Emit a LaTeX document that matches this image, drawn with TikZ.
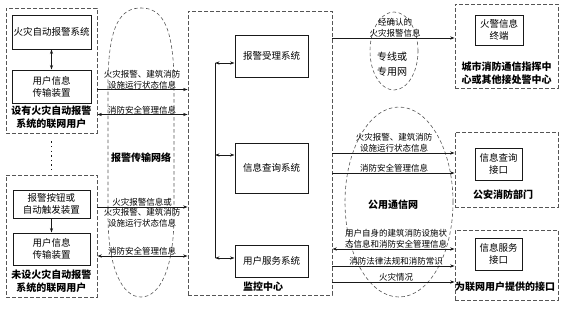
\documentclass[tikz,border=0pt]{standalone}
\usepackage{fontspec}
\usepackage{tikz}
\usetikzlibrary{arrows.meta, positioning, calc}
\newfontfamily\cjk{Noto Sans CJK SC}
\definecolor{mydark}{RGB}{25,25,25}
\definecolor{mygray}{RGB}{85,85,85}
\tikzset{
  sysbox/.style={rectangle, draw=mydark, line width=1pt, align=center,
    inner sep=1pt, font=\cjk\fontsize{9.5}{12}\selectfont},
  groupbox/.style={rectangle, draw=mygray, line width=0.8pt,
    dash pattern=on 4pt off 2pt},
  grouplabel/.style={align=center, inner sep=0pt,
    font=\cjk\bfseries\fontsize{10}{12.5}\selectfont},
  msg/.style={align=center, inner sep=0.5pt,
    font=\cjk\fontsize{8.5}{11}\selectfont},
  netlabel/.style={align=center, inner sep=0pt,
    font=\cjk\fontsize{10}{15}\selectfont},
  netline/.style={draw=mygray, line width=0.6pt, dash pattern=on 3.5pt off 2.5pt},
  arrow/.style={-{Stealth[length=4.5pt,width=3.2pt]}, line width=0.8pt, color=mydark},
  dblarrow/.style={{Stealth[length=4.5pt,width=3.2pt]}-{Stealth[length=4.5pt,width=3.2pt]},
    line width=0.8pt, color=mydark}
}
\begin{document}
\begin{tikzpicture}[x=1pt, y=-1pt]
  \useasboundingbox (0,0) rectangle (565,308);

  % Networked user with automatic fire alarm system
  \node[groupbox, minimum width=91pt, minimum height=125pt] (user1) at (51.5,70.5) {};
  \node[sysbox, minimum width=79pt, minimum height=34pt] (fas) at (51.5,32) {火灾自动报警系统};
  \node[sysbox, minimum width=79pt, minimum height=33pt] (uit1) at (51.5,86.5) {用户信息\\传输装置};
  \node[grouplabel] (user1lab) at (51.5,117) {设有火灾自动报警\\系统的联网用户};
  \draw[dblarrow] (fas) -- (uit1);

  % more users
  \draw[mydark, line width=1.4pt, dash pattern=on 1.4pt off 3.2pt] (user1.south) ++(0,8) -- ++(0,28);

  % Networked user without automatic fire alarm system
  \node[groupbox, minimum width=91pt, minimum height=122pt] (user2) at (51.5,236) {};
  \node[sysbox, minimum width=77pt, minimum height=28pt] (btn) at (51.5,204) {报警按钮或\\自动触发装置};
  \node[sysbox, minimum width=77pt, minimum height=32pt] (uit2) at (51.5,249) {用户信息\\传输装置};
  \node[grouplabel] (user2lab) at (51.5,281) {未设火灾自动报警\\系统的联网用户};
  \draw[arrow] (btn) -- (uit2);

  % Alarm transmission network
  \draw[netline] (108,215) -- (108,85) .. controls (108,22) and (122,8) .. (141,8)
    .. controls (160,8) and (174,22) .. (174,85) -- (174,215)
    .. controls (174,268) and (160,297) .. (141,297)
    .. controls (122,297) and (108,268) .. (108,215);
  \node[grouplabel] (atn) at (141,158) {报警传输网络};

  % Monitoring centre
  \node[groupbox, minimum width=144pt, minimum height=284pt] (mc) at (260,153) {};
  \node[sysbox, minimum width=73pt, minimum height=42pt] (alarm) at (271.5,56) {报警受理系统};
  \node[sysbox, minimum width=73pt, minimum height=50pt] (query) at (271.5,168) {信息查询系统};
  \node[sysbox, minimum width=73pt, minimum height=32pt] (service) at (271.5,261) {用户服务系统};
  \node[grouplabel] (mclab) at (263,287) {监控中心};
  \coordinate (bus1) at (215,63);
  \coordinate (bus2) at (215,155);
  \coordinate (bus3) at (215,258);
  \draw[mydark, line width=1pt] (bus1) -- (bus3);
  \draw[dblarrow] (bus1) -- (alarm.west |- bus1);
  \draw[dblarrow] (bus2) -- (query.west |- bus2);
  \draw[dblarrow] (bus3) -- (service.west |- bus3);

  % Messages from users to the centre
  \node[msg, anchor=south] (m1) at (142,89.5) {火灾报警、建筑消防\\设施运行状态信息};
  \node[msg, anchor=south] (m2) at (142,114.5) {消防安全管理信息};
  \node[msg, anchor=south] (m3) at (142,207) {火灾报警信息或};
  \node[msg, anchor=north] (m3b) at (142,208) {火灾报警、建筑消防\\设施运行状态信息};
  \node[msg, anchor=south] (m4) at (142,256) {消防安全管理信息};
  \draw[arrow] (user1.east |- m1.south) -- (mc.west |- m1.south);
  \draw[dblarrow] (user1.east |- m2.south) -- (mc.west |- m2.south);
  \draw[arrow] (user2.east |- m3.south) -- (mc.west |- m3.south);
  \draw[dblarrow] (user2.east |- m4.south) -- (mc.west |- m4.south);

  % Dedicated line and public network
  \draw[netline] (394,51) ellipse [x radius=24pt, y radius=39pt];
  \node[netlabel] (dedi) at (392,64) {专线或\\专用网};
  \draw[netline] (399,202) ellipse [x radius=54pt, y radius=95pt];
  \node[grouplabel] (pub) at (393,205) {公用通信网};

  % Receivers
  \node[groupbox, minimum width=103pt, minimum height=84pt] (fire) at (506.5,46) {};
  \node[sysbox, minimum width=48pt, minimum height=30pt] (term) at (499,30) {火警信息\\终端};
  \node[grouplabel] (firelab) at (506.5,73) {城市消防通信指挥中\\心或其他接处警中心};
  \node[groupbox, minimum width=103pt, minimum height=75pt] (police) at (506.5,169.5) {};
  \node[sysbox, minimum width=47pt, minimum height=32pt] (qif) at (498.5,164) {信息查询\\接口};
  \node[grouplabel] (policelab) at (503,195) {公安消防部门};
  \node[groupbox, minimum width=103pt, minimum height=70pt] (users) at (506.5,265) {};
  \node[sysbox, minimum width=47pt, minimum height=32pt] (sif) at (498.5,254) {信息服务\\接口};
  \node[grouplabel] (userslab) at (505,287) {为联网用户提供的接口};

  % Messages from the centre
  \node[msg, anchor=south] (r1) at (395,38) {经确认的\\火灾报警信息};
  \node[msg, anchor=south] (r2) at (394,153) {火灾报警、建筑消防\\设施运行状态信息};
  \node[msg, anchor=south] (r3) at (394,173) {消防安全管理信息};
  \node[msg, anchor=south] (r4) at (396,249) {用户自身的建筑消防设施状\\态信息和消防安全管理信息};
  \node[msg, anchor=south] (r5) at (396,266) {消防法律法规和消防常识};
  \node[msg, anchor=south] (r6) at (396,282) {火灾情况};
  \draw[arrow] (mc.east |- r1.south) -- (fire.west |- r1.south);
  \draw[arrow] (mc.east |- r2.south) -- (police.west |- r2.south);
  \draw[arrow] (mc.east |- r3.south) -- (police.west |- r3.south);
  \draw[dblarrow] (mc.east |- r4.south) -- (users.west |- r4.south);
  \draw[arrow] (mc.east |- r5.south) -- (users.west |- r5.south);
  \draw[arrow] (mc.east |- r6.south) -- (users.west |- r6.south);
\end{tikzpicture}
\end{document}
